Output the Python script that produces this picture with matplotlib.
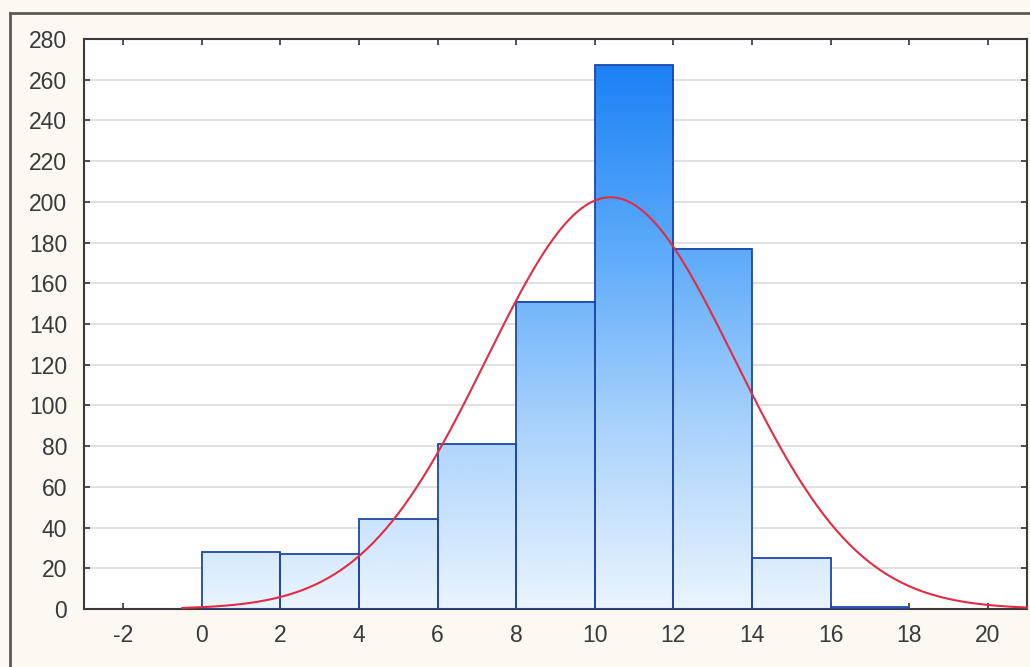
import numpy as np
import matplotlib.pyplot as plt
from matplotlib.colors import LinearSegmentedColormap

# Histogram data: bin edges and counts
bin_edges = [0, 2, 4, 6, 8, 10, 12, 14, 16, 18]
counts = [28, 27, 44, 81, 151, 267, 177, 25, 1]

# Fitted normal curve parameters
fit_mean = 10.4
fit_sd = 3.16
n_total = sum(counts)
bin_width = 2

x_ticks = [-2, 0, 2, 4, 6, 8, 10, 12, 14, 16, 18, 20]
y_ticks = list(range(0, 281, 20))

plt.rcParams['font.family'] = ['Liberation Sans', 'DejaVu Sans']

fig = plt.figure(figsize=(10.30, 6.67), dpi=100)
fig.patch.set_facecolor('#fdf8f1')

ax = fig.add_axes([84 / 1030, 1 - 609 / 667, (1027 - 84) / 1030, (609 - 39) / 667])
ax.set_facecolor('white')

# vertical gradient fill for bars (absolute height based)
cmap = LinearSegmentedColormap.from_list(
    'bars', ['#eaf4fe', '#a9d2fc', '#5aa9fa', '#1a80f5'])
vmax = 270
for left, right, h in zip(bin_edges[:-1], bin_edges[1:], counts):
    if h <= 0:
        continue
    grad = np.linspace(0, h, 200).reshape(-1, 1)
    ax.imshow(grad, extent=(left, right, 0, h), origin='lower', aspect='auto',
              cmap=cmap, vmin=0, vmax=vmax, zorder=2, interpolation='bilinear')

ax.bar(bin_edges[:-1], counts, width=bin_width, align='edge', fill=False,
       edgecolor='#1f47a8', linewidth=1.3, zorder=3)

# normal curve
xs = np.linspace(-0.5, 21, 400)
ys = n_total * bin_width / (fit_sd * np.sqrt(2 * np.pi)) * np.exp(-0.5 * ((xs - fit_mean) / fit_sd) ** 2)
ax.plot(xs, ys, color='#e02c44', linewidth=1.5, zorder=4, clip_on=False)

ax.set_xticks(x_ticks)
ax.set_yticks(y_ticks)
ax.set_xticklabels([str(v) for v in x_ticks])
ax.set_yticklabels([str(v) for v in y_ticks])
ax.set_aspect('auto')
ax.set_xlim(-3, 21)
ax.set_ylim(0, 280)
ax.yaxis.grid(True, color='#dcdcdc', linewidth=1.2, zorder=0)
ax.set_axisbelow(True)
ax.tick_params(direction='in', length=4, width=1.2, color='#333333',
               top=True, right=True, labelsize=16.5, labelcolor='#3a3a3a')
ax.tick_params(axis='x', pad=11)
ax.tick_params(axis='y', pad=12)
for side in ax.spines.values():
    side.set_color('#3a3a3a')
    side.set_linewidth(1.5)

# outer frame
fig.add_artist(plt.Line2D([10 / 1030, 10 / 1030], [0, 1 - 13 / 667], color='#5e5a55', linewidth=2))
fig.add_artist(plt.Line2D([10 / 1030, 1], [1 - 13 / 667, 1 - 13 / 667], color='#5e5a55', linewidth=2))

fig.savefig('out.png', dpi=100, facecolor=fig.get_facecolor())
